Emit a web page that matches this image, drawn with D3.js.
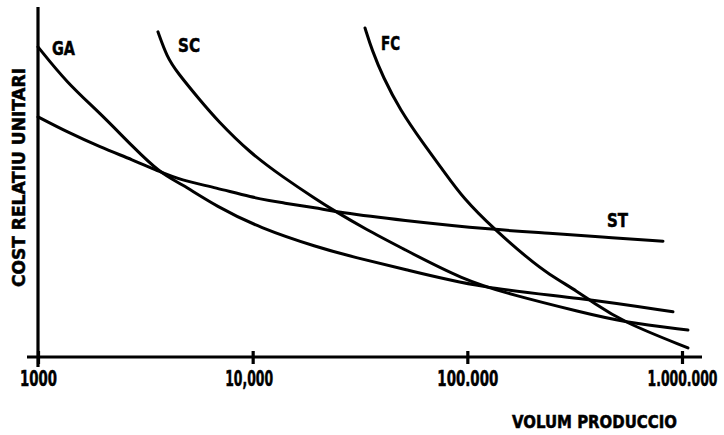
<!DOCTYPE html>
<html>
<head>
<meta charset="utf-8">
<script src="https://cdn.jsdelivr.net/npm/d3@7"></script>
<style>
  html, body { margin: 0; padding: 0; background: #fff; }
  svg { display: block; }
  text { font-family: "Liberation Sans Narrow", "DejaVu Sans Condensed", "Liberation Sans", Arial, sans-serif; font-weight: bold; fill: #000; stroke: #000; stroke-width: 0.5; }
</style>
</head>
<body>
<svg id="chart" width="724" height="435"></svg>
<script>
// ---- data ----
const tickValues = [1000, 10000, 100000, 1000000];
const tickLabels = ["1000", "10,000", "100.000", "1.000.000"];
const seriesNames = ["GA", "SC", "FC", "ST"];

const gaVolume = [1000, 1365, 1945, 2770, 3700, 4590, 6820, 10800, 19900, 30600, 48600, 114600, 334800, 907800];
const gaCost   = [88.6, 78.3, 69.7, 60.0, 52.6, 49.7, 42.9, 36.9, 31.4, 28.3, 25.4, 19.7, 16.9, 12.9];

const scVolume = [3620, 3990, 4440, 5680, 6820, 9720, 13840, 19930, 23670, 34090, 48580, 95450, 163200, 334800, 531000, 1066000];
const scCost   = [92.9, 85.7, 81.4, 73.4, 67.7, 58.3, 51.4, 44.9, 42.0, 36.3, 31.4, 22.0, 17.7, 12.9, 10.0, 7.7];

const fcVolume = [33370, 35960, 40470, 48580, 62170, 77020, 95450, 134500, 195800, 235000, 334800, 380800, 531000, 1066000];
const fcCost   = [94.0, 87.7, 80.0, 70.6, 61.1, 53.4, 45.4, 36.3, 27.7, 24.0, 18.3, 15.7, 10.0, 2.6];

const stVolume = [1000, 1365, 1945, 2770, 3700, 4590, 6820, 9720, 13840, 19930, 24710, 48580, 134500, 242700, 415000, 815500];
const stCost   = [68.6, 64.3, 60.0, 56.3, 52.9, 50.6, 48.3, 45.7, 44.0, 42.6, 41.4, 39.1, 36.3, 35.4, 34.3, 33.1];

const yTitle = "COST RELATIU UNITARI";
const xTitle = "VOLUM PRODUCCIO";

// ---- layout ----
const svg = d3.select("#chart");
const x = d3.scaleLog().domain([1000, 1000000]).range([38, 682]);
const y = d3.scaleLinear().domain([0, 100]).range([357, 7]);

// condense a text horizontally so it spans `target` px, centred on (cx, cy)
function fit(sel, cx, cy, target, rot) {
  sel.attr("x", 0).attr("y", 0).attr("text-anchor", "middle");
  const w = sel.node().getComputedTextLength();
  const sx = target / w;
  sel.attr("transform", `translate(${cx},${cy})${rot ? " rotate(" + rot + ")" : ""} scale(${sx},1)`);
}

const series = [
  {name: seriesNames[0], vol: gaVolume, cost: gaCost, lx: 63.5, ly: 55, lw: 23},
  {name: seriesNames[1], vol: scVolume, cost: scCost, lx: 189, ly: 52, lw: 22},
  {name: seriesNames[2], vol: fcVolume, cost: fcCost, lx: 390.5, ly: 50, lw: 19},
  {name: seriesNames[3], vol: stVolume, cost: stCost, lx: 617.5, ly: 227, lw: 21}
];

// axes lines
svg.append("line")
  .attr("x1", x.range()[0]).attr("x2", x.range()[0])
  .attr("y1", 7).attr("y2", 367)
  .attr("stroke", "#000").attr("stroke-width", 3.2);
svg.append("line")
  .attr("x1", 27).attr("x2", 702)
  .attr("y1", y(0)).attr("y2", y(0))
  .attr("stroke", "#000").attr("stroke-width", 3);

// x axis ticks and labels via d3 axis
const labelLen = {"1000": 37, "10,000": 48, "100.000": 61, "1.000.000": 70};
const labelShift = {"1000": 0, "10,000": -4, "100.000": 0, "1.000.000": 0};
const gx = svg.append("g")
  .attr("transform", `translate(0,${y(0)})`)
  .call(d3.axisBottom(x).tickValues(tickValues)
        .tickFormat((d, i) => tickLabels[i]).tickSize(7).tickPadding(13));
gx.select(".domain").remove();
gx.selectAll(".tick line").attr("y1", -6).attr("y2", 7)
  .attr("stroke", "#000").attr("stroke-width", 3.2);
gx.selectAll(".tick text")
  .attr("font-size", 21)
  .attr("font-family", null)
  .attr("fill", null)
  .attr("dy", null)
  .each(function(d, i) {
    fit(d3.select(this), labelShift[tickLabels[i]], 29, labelLen[tickLabels[i]]);
  });

// curves
const line = d3.line()
  .x(d => x(d[0]))
  .y(d => y(d[1]))
  .curve(d3.curveBasis);

series.forEach(s => {
  const pts = s.vol.map((v, i) => [v, s.cost[i]]);
  svg.append("path")
    .datum(pts)
    .attr("d", line)
    .attr("fill", "none")
    .attr("stroke", "#000")
    .attr("stroke-width", 3)
    .attr("stroke-linecap", "round")
    .attr("stroke-linejoin", "round");
  const t = svg.append("text")
    .attr("font-size", 19)
    .text(s.name);
  fit(t, s.lx, s.ly, s.lw);
});

// titles
const yt = svg.append("text").attr("font-size", 18).text(yTitle);
fit(yt, 25, 177.5, 219, -90);

const xt = svg.append("text").attr("font-size", 18).text(xTitle);
fit(xt, 594.5, 428, 165);
</script>
</body>
</html>
